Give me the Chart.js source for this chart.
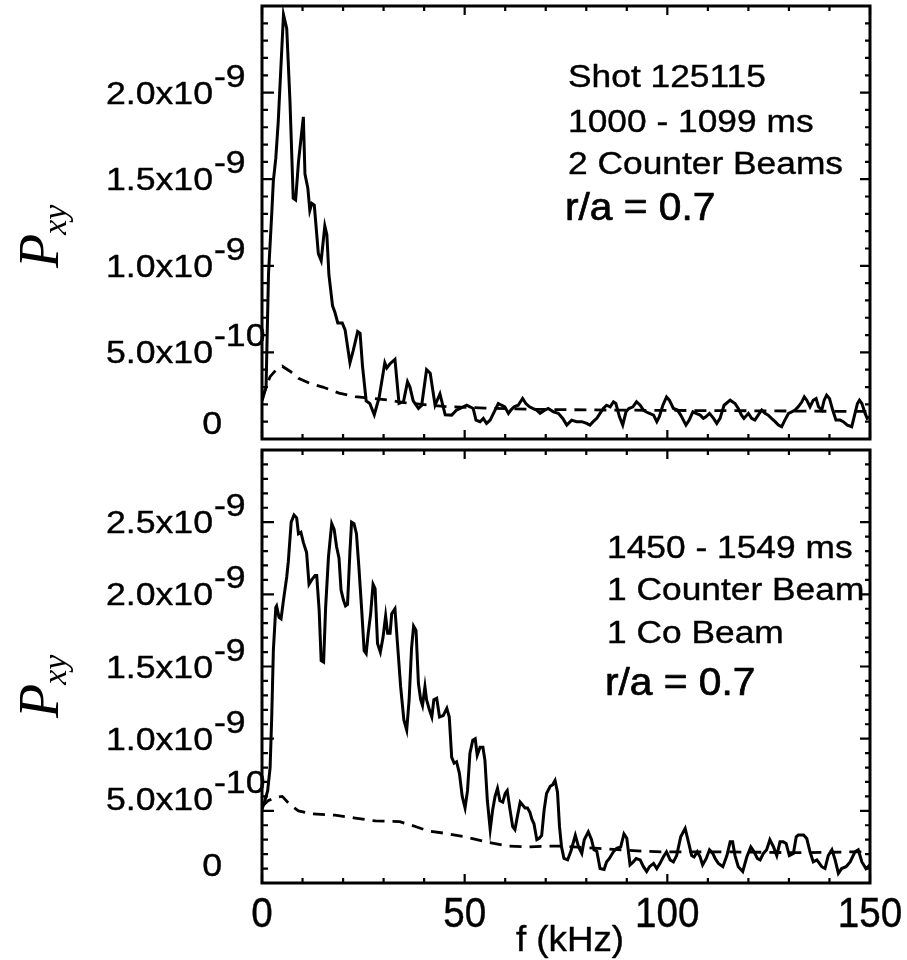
<!DOCTYPE html>
<html><head><meta charset="utf-8">
<script src="https://cdn.jsdelivr.net/npm/chart.js@4.4.1/dist/chart.umd.min.js"></script>
<style>
html,body{margin:0;padding:0;background:#fff;}
#wrap{position:relative;width:907px;height:960px;background:#fff;overflow:hidden;}
canvas{position:absolute;left:0;}
#c1{top:0;} #c2{top:445px;}
</style></head><body>
<div id="wrap"><canvas id="c1" width="907" height="445"></canvas><canvas id="c2" width="907" height="515"></canvas></div>
<script>
// ---------- data (frequency kHz, Pxy in units of 1e-9) ----------
const xTickValues = [0, 50, 100, 150];
const xTickLabels = ["0", "50", "100", "150"];
const topYTickValues = [0, 0.5, 1.0, 1.5, 2.0];
const topYTickLabels = [["0", ""], ["5.0x10", "-10"], ["1.0x10", "-9"], ["1.5x10", "-9"], ["2.0x10", "-9"]];
const bottomYTickValues = [0, 0.5, 1.0, 1.5, 2.0, 2.5];
const bottomYTickLabels = [["0", ""], ["5.0x10", "-10"], ["1.0x10", "-9"], ["1.5x10", "-9"], ["2.0x10", "-9"], ["2.5x10", "-9"]];
const topText = ["Shot 125115", "1000 - 1099 ms", "2 Counter Beams"];
const bottomText = ["1450 - 1549 ms", "1 Counter Beam", "1 Co Beam"];
const radiusText = "r/a = 0.7";
const xTitle = "f (kHz)";

const topSolid = [[0,0.22],[1.0,0.30],[1.6,0.95],[2.4,1.30],[2.8,1.49],[3.4,1.62],[4.0,1.83],[5.3,2.45],[6.1,2.37],[6.9,1.95],[7.7,1.39],[8.3,1.38],[9.0,1.60],[10.2,1.86],[10.6,1.53],[11.3,1.45],[11.8,1.32],[12.3,1.36],[12.9,1.35],[13.9,1.07],[14.6,1.03],[15.5,1.23],[16.0,1.18],[16.5,0.95],[17.4,0.77],[18.0,0.73],[18.7,0.67],[19.8,0.67],[20.5,0.63],[21.7,0.44],[22.5,0.51],[23.6,0.62],[24.2,0.61],[24.8,0.42],[25.7,0.22],[26.6,0.205],[27.7,0.14],[28.9,0.24],[30.3,0.44],[30.8,0.41],[31.6,0.435],[32.8,0.46],[33.8,0.205],[34.9,0.215],[35.9,0.33],[36.5,0.30],[37.3,0.22],[38.6,0.176],[39.4,0.195],[40.6,0.40],[41.5,0.38],[42.7,0.195],[43.9,0.26],[45.2,0.14],
[46.8,0.138],[48.0,0.167],[48.9,0.176],[49.7,0.186],[50.5,0.195],[51.3,0.186],[52.1,0.176],[52.8,0.109],[53.8,0.10],[54.6,0.119],[55.4,0.09],[56.3,0.109],[57.5,0.167],[58.3,0.205],[59.1,0.195],[59.9,0.186],[60.8,0.148],[61.4,0.167],[62.2,0.186],[63.2,0.195],[64.3,0.234],[65.1,0.205],[66.0,0.186],[66.9,0.176],[67.8,0.167],[68.6,0.148],[69.8,0.167],[70.6,0.176],[71.9,0.157],[73.1,0.148],[74.2,0.119],[75.2,0.08],[76.4,0.109],[77.6,0.10],[78.9,0.10],[80.1,0.09],[80.9,0.08],[81.7,0.10],[82.6,0.119],[83.4,0.148],[84.2,0.176],[85.0,0.195],[85.9,0.186],[86.7,0.215],[87.3,0.205],[88.2,0.128],[89.0,0.08],[89.8,0.157],[90.5,0.176],[91.5,0.186],[92.4,0.215],[93.3,0.195],[94.1,0.167],[94.7,0.157],[95.6,0.148],[96.6,0.138],[97.4,0.10],[98.0,0.128],[98.9,0.195],[99.8,0.243],[100.5,0.224],[101.5,0.176],[102.5,0.167],[103.3,0.138],[104.6,0.08],[105.4,0.109],[106.3,0.157],[107.1,0.148],[108.1,0.138],[108.9,0.119],[109.5,0.128],[110.4,0.148],[111.4,0.119],[112.2,0.09],[113.0,0.119],[114.0,0.195],[115.5,0.224],[116.7,0.205],[117.5,0.176],[118.3,0.138],[118.9,0.119],[120.0,0.148],[120.8,0.119],[121.6,0.109],[122.7,0.148],[123.3,0.167],[124.1,0.148],[124.9,0.138],[125.7,0.119],[126.6,0.10],[127.4,0.08],[128.2,0.071],[129.0,0.109],[129.9,0.148],[130.7,0.157],[131.5,0.167],[132.3,0.186],[133.2,0.215],[133.8,0.243],[134.4,0.224],[135.2,0.186],[136.0,0.224],[136.7,0.234],[137.3,0.186],[138.1,0.167],[138.7,0.224],[139.3,0.253],[140.0,0.234],[140.8,0.167],[141.6,0.109],[142.6,0.109],[143.4,0.10],[144.4,0.08],[145.5,0.071],[146.3,0.148],[146.9,0.205],[147.4,0.224],[148.0,0.205],[148.8,0.148],[149.3,0.119],[150,0.128]];

const topDashed = [[0,0.23],[1,0.30],[2,0.36],[3.5,0.40],[5,0.42],[7,0.39],[9,0.35],[12,0.32],[15,0.30],[19,0.265],[23,0.245],[27,0.235],[31,0.225],[35,0.21],[40,0.198],[45,0.188],[55,0.178],[65,0.172],[80,0.168],[100,0.165],[120,0.163],[140,0.160],[150,0.160]];

const bottomSolid = [[0,0.51],[0.7,0.57],[1.4,0.64],[2.0,0.80],[2.4,1.15],[2.8,1.61],[3.4,1.91],[3.6,1.92],[4.2,1.84],[4.7,1.83],[5.3,1.96],[6.1,2.12],[6.5,2.23],[7.2,2.50],[7.9,2.55],[8.55,2.53],[9.0,2.42],[9.6,2.43],[10.2,2.36],[11.0,2.29],[11.6,2.07],[12.25,2.10],[13.1,2.13],[13.5,2.13],[14.1,1.89],[14.6,1.54],[15.2,1.53],[15.7,1.91],[16.4,2.26],[17.2,2.49],[17.8,2.45],[18.4,2.33],[19.0,2.25],[19.5,2.03],[20.1,1.96],[20.6,1.92],[21.1,1.93],[21.7,2.30],[22.1,2.50],[22.7,2.49],[23.3,2.42],[23.9,2.19],[24.6,1.89],[25.2,1.61],[25.7,1.59],[26.2,1.73],[26.8,1.865],[27.4,2.07],[27.9,2.04],[28.5,1.66],[29.2,1.60],[29.85,1.70],[30.5,1.85],[31.0,1.73],[31.6,1.73],[32.0,1.865],[32.8,1.90],[33.5,1.63],[34.2,1.36],[35.0,1.13],[35.7,1.06],[36.3,1.27],[36.9,1.63],[37.4,1.78],[38.0,1.75],[38.6,1.38],[39.15,1.27],[39.6,1.23],[40.2,1.36],[40.6,1.27],[41.3,1.20],[41.9,1.15],[42.4,1.27],[43.1,1.28],[43.8,1.15],[44.7,1.16],[45.6,1.21],[46.2,1.15],[46.8,0.87],[47.4,0.83],[48.0,0.84],[48.7,0.76],[49.4,0.60],[50.1,0.52],[50.7,0.64],[51.3,0.90],[52.0,0.99],[52.6,1.00],[53.1,0.885],[53.8,0.94],[54.5,0.94],[55.0,0.85],[55.6,0.57],[56.3,0.37],[56.9,0.505],[57.5,0.60],[58.1,0.655],[58.7,0.57],[59.4,0.56],[60.0,0.62],[60.5,0.64],[61.2,0.505],[61.85,0.39],[62.4,0.37],[63.0,0.46],[63.7,0.56],[64.3,0.54],[64.9,0.52],[65.5,0.52],[66.1,0.49],[66.6,0.44],[67.1,0.41],[67.8,0.30],[68.4,0.31],[69.0,0.33],[69.6,0.505],[70.2,0.62],[71.1,0.67],[71.7,0.68],[72.3,0.71],[72.9,0.63],[73.4,0.39],[73.9,0.25],[74.5,0.17],[75.4,0.16],[76.2,0.22],[77.3,0.33],
[78.1,0.25],[78.9,0.205],[79.5,0.30],[80.5,0.355],[81.3,0.30],[81.9,0.23],[82.6,0.22],[83.4,0.10],[84.4,0.094],[85.0,0.146],[85.7,0.17],[86.7,0.216],[87.5,0.24],[88.5,0.25],[89.3,0.34],[90.0,0.31],[90.8,0.125],[91.6,0.146],[92.3,0.17],[93.3,0.16],[94.1,0.113],[94.9,0.08],[95.6,0.113],[96.6,0.136],[97.4,0.10],[98.2,0.136],[99.0,0.18],[99.8,0.216],[100.7,0.16],[101.5,0.146],[102.3,0.19],[103.3,0.32],[104.4,0.378],[105.2,0.285],[106.0,0.19],[106.6,0.18],[107.4,0.216],[108.1,0.18],[108.7,0.125],[109.6,0.17],[110.4,0.23],[111.2,0.205],[111.8,0.17],[112.6,0.136],[113.7,0.113],[114.7,0.19],[115.5,0.285],[116.1,0.285],[116.7,0.19],[117.5,0.113],[118.6,0.08],[119.6,0.18],[120.6,0.25],[121.4,0.216],[122.2,0.17],[122.9,0.16],[123.7,0.205],[124.5,0.23],[125.3,0.30],[126.2,0.25],[127.0,0.19],[127.8,0.285],[128.6,0.285],[129.3,0.274],[130.1,0.19],[131.1,0.205],[131.8,0.32],[132.3,0.332],[133.6,0.332],[134.4,0.308],[135.2,0.216],[136.0,0.146],[136.9,0.16],[138.1,0.113],[138.9,0.10],[139.7,0.19],[140.6,0.23],[141.4,0.16],[142.2,0.067],[143.0,0.10],[144.1,0.113],[145.1,0.146],[146.3,0.216],[147.1,0.23],[148.0,0.146],[149.0,0.10],[150,0.125]];

const bottomDashed = [[0,0.53],[1.5,0.57],[3,0.59],[5,0.60],[7,0.54],[9,0.50],[12,0.48],[18,0.47],[23,0.45],[28,0.43],[34,0.425],[38,0.39],[41,0.36],[45,0.345],[50,0.32],[56,0.28],[61,0.255],[66,0.25],[70,0.255],[74,0.255],[83,0.24],[94,0.22],[100,0.215],[116,0.215],[133,0.21],[144,0.215],[150,0.215]];

// ---------- styles ----------
const SANS = "'Liberation Sans', Arial, Helvetica, sans-serif";
const STYLE = {
  top:    { yMax: 2.5, labelNudge: [-16, 0, 0, 0, 0], textX: 568, textBase: [87, 132, 174], raX: 565, raBase: 220, titleBase: 268, showX: false },
  bottom: { yMax: 3.0, labelNudge: [-18, -12, 0, 0, 0, 0], textX: 607, textBase: [113, 155, 198], raX: 605, raBase: 250, titleBase: 273, showX: true }
};

function txt(ctx, s, x, y, font, sx, align, heavy) {
  ctx.save();
  ctx.font = font; ctx.textBaseline = 'alphabetic'; ctx.textAlign = 'left';
  const w = ctx.measureText(s).width * sx;
  const x0 = align === 'right' ? x - w : (align === 'center' ? x - w / 2 : x);
  ctx.translate(x0, y); ctx.scale(sx, 1);
  ctx.fillStyle = '#000'; ctx.fillText(s, 0, 0);
  if (heavy) { ctx.strokeStyle = '#000'; ctx.lineWidth = heavy; ctx.lineJoin = 'round'; ctx.strokeText(s, 0, 0); }
  ctx.restore();
  return w;
}

function framePlugin(panel, yVals, yLabels, annot) {
  const st = STYLE[panel];
  return {
    id: 'frame_' + panel,
    afterDraw(chart) {
      const ctx = chart.ctx, a = chart.chartArea, xs = chart.scales.x, ys = chart.scales.y;
      ctx.save();
      ctx.strokeStyle = '#000';
      // inward ticks on all four sides
      ctx.lineWidth = 2.2;
      ctx.beginPath();
      for (let f = 0; f <= 150; f += 10) {
        const px = xs.getPixelForValue(f);
        const L = (f % 50 === 0) ? 9 : 5;
        ctx.moveTo(px, a.bottom); ctx.lineTo(px, a.bottom - L);
        ctx.moveTo(px, a.top); ctx.lineTo(px, a.top + L);
      }
      const nMinor = Math.round(st.yMax / 0.1);
      for (let i = 0; i <= nMinor; i++) {
        const py = ys.getPixelForValue(i * 0.1);
        const major = (i % 5 === 0);
        ctx.moveTo(a.left, py); ctx.lineTo(a.left + (major ? 12 : 6), py);
        ctx.moveTo(a.right, py); ctx.lineTo(a.right - (major ? 10 : 5), py);
      }
      ctx.stroke();
      // frame
      ctx.lineWidth = 3;
      ctx.strokeRect(a.left, a.top, a.right - a.left, a.bottom - a.top);
      // y tick labels
      const mainFont = '31px ' + SANS;
      yVals.forEach((v, i) => {
        const py = ys.getPixelForValue(v) + st.labelNudge[i];
        const [m, sup] = yLabels[i];
        if (sup) {
          txt(ctx, m, 213, py + 11, mainFont, 1.15, 'right', 0.4);
          txt(ctx, sup, 214, py - 6, mainFont, 1.15, 'left', 0.4);
        } else {
          txt(ctx, m, 222, py + 11, mainFont, 1.15, 'right', 0.4);
        }
      });
      // y axis title P_xy (rotated)
      ctx.save();
      ctx.translate(58, st.titleBase);
      ctx.rotate(-Math.PI / 2);
      ctx.fillStyle = '#000';
      ctx.textBaseline = 'alphabetic';
      ctx.font = "italic 56px 'Liberation Serif', 'DejaVu Serif', serif";
      ctx.fillText('P', 0, 0);
      const pw = ctx.measureText('P').width;
      ctx.font = "italic 34px 'Liberation Serif', 'DejaVu Serif', serif";
      ctx.fillText('xy', pw - 1, 8);
      ctx.restore();
      // annotations
      annot.forEach((s, i) => txt(ctx, s, st.textX, st.textBase[i], '31px ' + SANS, 1.14, 'left', 0.4));
      txt(ctx, radiusText, st.raX, st.raBase, '38px ' + SANS, 1.07, 'left', 0.7);
      // x axis labels
      if (st.showX) {
        xTickValues.forEach((v, i) => {
          txt(ctx, xTickLabels[i], xs.getPixelForValue(v), a.bottom + 44, '42px ' + SANS, 0.92, 'center', 0.4);
        });
        txt(ctx, xTitle, (a.left + a.right) / 2 + 4, a.bottom + 68, '35px ' + SANS, 1.05, 'center', 0.4);
      }
      ctx.restore();
    }
  };
}

function makeChart(id, solid, dashed, panel, pad, yVals, yLabels, annot) {
  const st = STYLE[panel];
  return new Chart(document.getElementById(id), {
    type: 'line',
    data: {
      datasets: [
        { data: solid.map(p => ({ x: p[0], y: p[1] })), borderColor: '#000', borderWidth: 3, pointRadius: 0, tension: 0, fill: false, borderJoinStyle: 'miter' },
        { data: dashed.map(p => ({ x: p[0], y: p[1] })), borderColor: '#000', borderWidth: 2.8, borderDash: [12, 8], pointRadius: 0, tension: 0, fill: false }
      ]
    },
    options: {
      responsive: false, animation: false, devicePixelRatio: 1,
      layout: { padding: pad },
      scales: {
        x: { type: 'linear', min: 0, max: 150, display: false },
        y: { type: 'linear', min: 0, max: st.yMax, display: false }
      },
      plugins: { legend: { display: false }, tooltip: { enabled: false } }
    },
    plugins: [framePlugin(panel, yVals, yLabels, annot)]
  });
}

makeChart('c1', topSolid, topDashed, 'top', { left: 262, right: 37, top: 6, bottom: 6 }, topYTickValues, topYTickLabels, topText);
makeChart('c2', bottomSolid, bottomDashed, 'bottom', { left: 262, right: 37, top: 5, bottom: 77 }, bottomYTickValues, bottomYTickLabels, bottomText);
</script>
</body></html>
